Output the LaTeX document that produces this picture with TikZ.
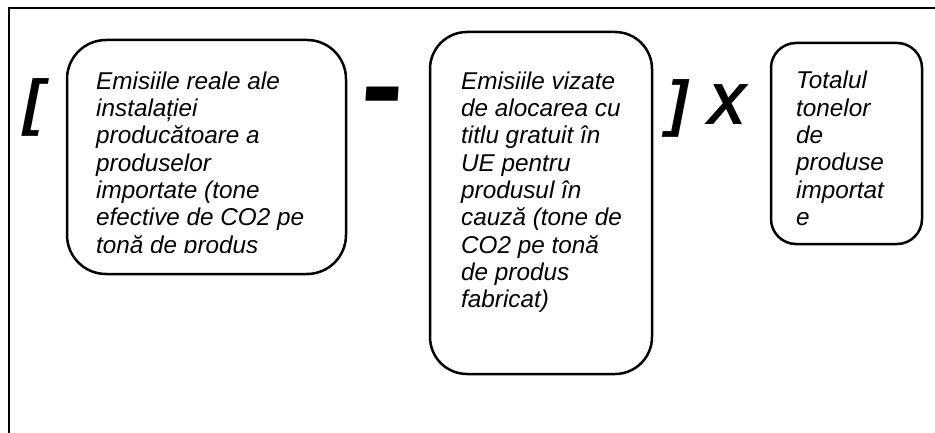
\documentclass[tikz,border=0pt]{standalone}
\usepackage{fontspec}
\setmainfont{Liberation Sans}
\usepackage{tikz}
\usetikzlibrary{positioning}
\tikzset{
  roundbox/.style={draw, line width=2.5pt, rounded corners=#1, inner sep=0pt},
  boxtext/.style={anchor=north west, inner sep=0pt, align=left,
    font=\fontsize{24.3}{27.3}\selectfont\itshape},
  opsign/.style={inner sep=0pt, font=\fontsize{#1}{#1}\selectfont\bfseries\itshape}
}

\begin{document}
\begin{tikzpicture}[x=1pt, y=-1pt]
    \clip (0,0) rectangle (935,433);
    % outer frame
    \draw[line width=2pt] (9,8) rectangle (960,460);
    % set up the boxes
    \node[roundbox=39pt, minimum width=279pt, minimum height=234pt] (real) at (206.5,157) {};
    \node[roundbox=37pt, minimum width=222pt, minimum height=342pt] (free) at (541,203) {};
    \node[roundbox=25pt, minimum width=151pt, minimum height=201pt] (total) at (846.5,143.5) {};
    % texts in the boxes
    \begin{scope}
      \clip (60,30) rectangle (350,252);
      \node[boxtext] (realtxt) at (96,71.5) {Emisiile reale ale\\instalației\\producătoare a\\produselor\\importate (tone\\efective de CO2 pe\\tonă de produs};
    \end{scope}
    \node[boxtext] (freetxt) at (461,71.5) {Emisiile vizate\\de alocarea cu\\titlu gratuit în\\UE pentru\\produsul în\\cauză (tone de\\CO2 pe tonă\\de produs\\fabricat)};
    \node[boxtext] (totaltxt) at (796,71) {Totalul\\tonelor\\de\\produse\\importat\\e};
    % brackets and operators
    \node[opsign=62] (open) at (34,107) {[};
    \node[opsign=65] (minus) at (383,110) {\scalebox{1}[2.2]{–}};
    \node[opsign=62] (close) at (678,108) {]};
    \node[opsign=58] (times) at (727,105) {X};
\end{tikzpicture}
\end{document}
